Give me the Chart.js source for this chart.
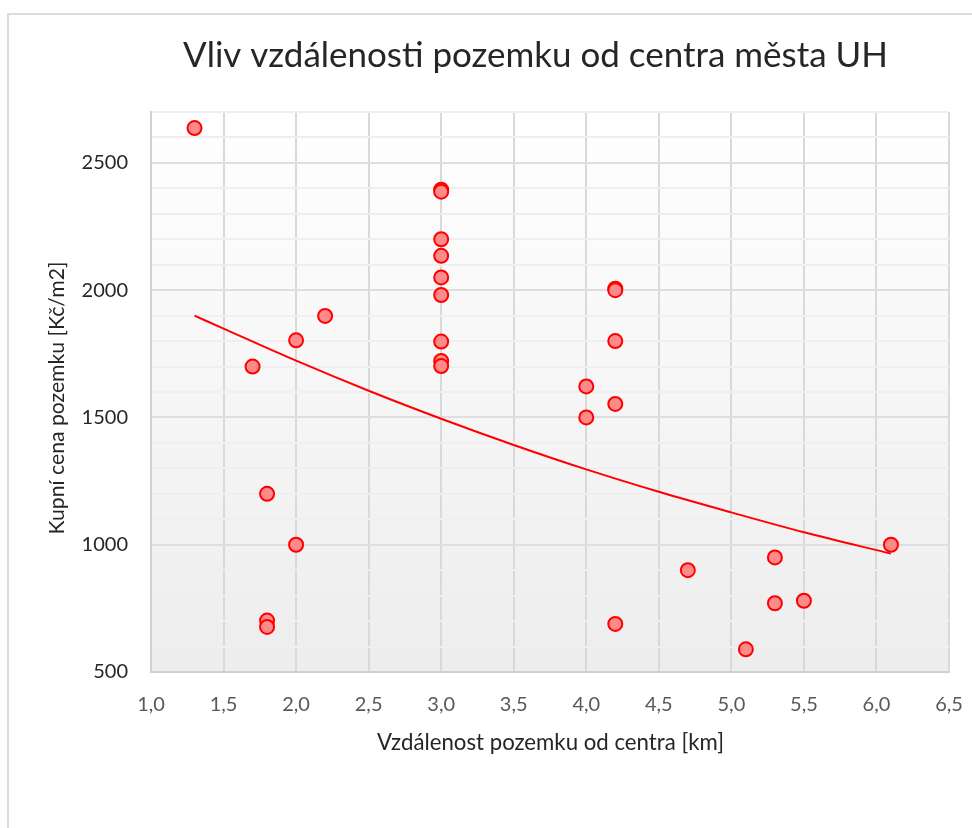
<!DOCTYPE html>
<html>
<head>
<meta charset="utf-8">
<script src="https://cdn.jsdelivr.net/npm/chart.js@4.4.1/dist/chart.umd.min.js"></script>
<style>
  html, body { margin:0; padding:0; background:#fff; overflow:hidden; }
  #wrap { position:relative; width:972px; height:828px; overflow:hidden; }
  #frame { position:absolute; left:7px; top:13px; width:1000px; height:900px; border:2px solid #dcdcdc; box-sizing:border-box; }
  canvas { position:absolute; left:0; top:0; }
</style>
</head>
<body>
<div id="wrap">
  <div id="frame"></div>
  <canvas id="c" width="972" height="828"></canvas>
</div>
<script>
// Data
const distances = [1.3, 1.7, 1.8, 1.8, 1.8, 2.0, 2.0, 2.2,
  3.0, 3.0, 3.0, 3.0, 3.0, 3.0, 3.0, 3.0, 3.0,
  4.0, 4.0, 4.2, 4.2, 4.2, 4.2, 4.2,
  4.7, 5.1, 5.3, 5.3, 5.5, 6.1];
const prices = [2637, 1700, 1200, 702, 677, 1803, 1000, 1899,
  2395, 2387, 2200, 2135, 2050, 1981, 1798, 1722, 1702,
  1622, 1500, 2006, 2000, 1800, 1553, 689,
  900, 589, 950, 770, 780, 1000];
// Trendline
const trendX = [1.3, 1.5, 2.0, 2.5, 3.0, 3.5, 4.0, 4.5, 5.0, 5.5, 6.1];
const trendY = [1900, 1849, 1723, 1605, 1495, 1392, 1296, 1208, 1127, 1049, 965];

const chartTitle = 'Vliv vzdálenosti pozemku od centra města UH';
const xTitle = 'Vzdálenost pozemku od centra [km]';
const yTitle = 'Kupní cena pozemku [Kč/m2]';

const FONT = 'Lato, "Open Sans", sans-serif';

const bgPlugin = {
  id: 'plotBg',
  beforeDraw(chart) {
    const {ctx, chartArea: a} = chart;
    const g = ctx.createLinearGradient(0, a.top, 0, a.bottom);
    g.addColorStop(0, '#ffffff');
    g.addColorStop(1, '#ededed');
    ctx.save();
    ctx.fillStyle = g;
    ctx.fillRect(a.left, a.top, a.right - a.left, a.bottom - a.top);
    ctx.restore();
  }
};

function fitFont(ctx, text, targetW, base) {
  ctx.font = base + 'px ' + FONT;
  const w = ctx.measureText(text).width;
  return base * targetW / w;
}

const textPlugin = {
  id: 'texts',
  afterDraw(chart) {
    const ctx = chart.ctx;
    ctx.save();
    ctx.fillStyle = '#262626';
    let fs = fitFont(ctx, chartTitle, 705, 30);
    ctx.font = fs + 'px ' + FONT;
    ctx.textAlign = 'center';
    ctx.textBaseline = 'alphabetic';
    ctx.fillText(chartTitle, 535.5, 67);
    fs = fitFont(ctx, xTitle, 347, 18);
    ctx.font = fs + 'px ' + FONT;
    ctx.fillText(xTitle, 550.5, 750);
    fs = fitFont(ctx, yTitle, 273, 18);
    ctx.font = fs + 'px ' + FONT;
    ctx.translate(64, 398);
    ctx.rotate(-Math.PI / 2);
    ctx.fillText(yTitle, 0, 0);
    ctx.restore();
  }
};

const points = distances.map((d, i) => ({x: d, y: prices[i]}));
const trend = trendX.map((d, i) => ({x: d, y: trendY[i]}));

new Chart(document.getElementById('c'), {
  type: 'scatter',
  data: {
    datasets: [
      {
        label: 'Trend',
        data: trend,
        showLine: true,
        borderColor: '#ff0000',
        borderWidth: 2,
        pointRadius: 0,
        pointHoverRadius: 0,
        cubicInterpolationMode: 'monotone',
        fill: false,
        order: 2
      },
      {
        label: 'Cena',
        data: points,
        backgroundColor: '#ff8a8a',
        borderColor: '#ff0000',
        borderWidth: 2,
        pointRadius: 7,
        order: 1
      }
    ]
  },
  options: {
    responsive: false,
    animation: false,
    devicePixelRatio: 1,
    layout: { padding: { left: 0, top: 112, right: 23, bottom: 0 } },
    plugins: {
      legend: { display: false },
      title: { display: false },
      tooltip: { enabled: false }
    },
    scales: {
      x: {
        type: 'linear',
        min: 1,
        max: 6.5,
        afterFit(s) { s.height = 156; s.paddingLeft = 0; s.paddingRight = 0; },
        ticks: {
          stepSize: 0.5,
          padding: 21,
          maxRotation: 0,
          color: '#595959',
          font: { family: FONT, size: 20 },
          callback: v => v.toFixed(1).replace('.', ',')
        },
        grid: { color: '#d9d9d9', lineWidth: 2, drawTicks: false },
        border: { color: '#d0d0d0', width: 2 }
      },
      y: {
        type: 'linear',
        min: 500,
        max: 2700,
        afterFit(s) { s.width = 151; s.paddingTop = 0; s.paddingBottom = 0; },
        ticks: {
          stepSize: 100,
          autoSkip: false,
          padding: 23,
          color: '#262626',
          font: { family: FONT, size: 20 },
          callback: v => (v % 500 === 0 ? String(v) : '')
        },
        grid: {
          drawTicks: false,
          color: ctx => (ctx.tick && ctx.tick.value % 500 === 0) ? '#dedede' : '#efefef',
          lineWidth: 2
        },
        border: { color: '#d0d0d0', width: 2 }
      }
    }
  },
  plugins: [bgPlugin, textPlugin]
});
</script>
</body>
</html>
